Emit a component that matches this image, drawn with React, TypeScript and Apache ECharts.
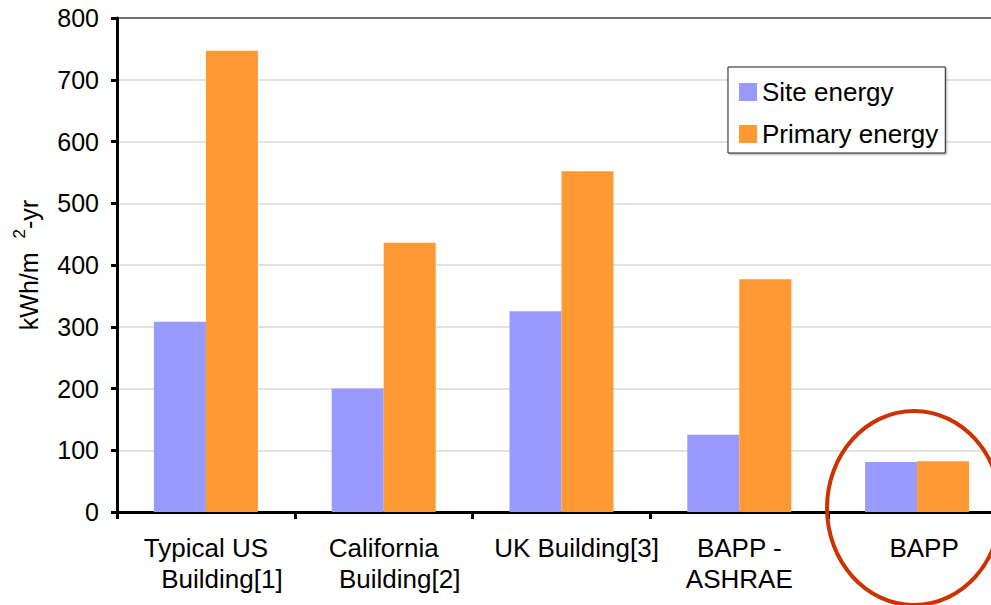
import React, { useEffect, useRef } from "react";
import * as echarts from "echarts";

const categories = ["Typical US\nBuilding[1]", "California\nBuilding[2]", "UK Building[3]", "BAPP -\nASHRAE", "BAPP"];
const siteEnergy = [308, 200, 325, 125, 81];
const primaryEnergy = [747, 436, 552, 377, 82];
const seriesNames = ["Site energy", "Primary energy"];
const yTicks = [0, 100, 200, 300, 400, 500, 600, 700, 800];

export default function App() {
  const ref = useRef<HTMLDivElement>(null);
  useEffect(() => {
    const chart = echarts.init(ref.current!, null, { renderer: "svg" });
    const font = "'Liberation Sans', Arial, sans-serif";
    const gridColors = yTicks.map((t, i) => (i === yTicks.length - 1 ? "#444" : "#d9d9d9"));
    // per-label horizontal nudges (rich style names), matching the source layout
    const singleStyle: Record<string, string> = { "UK Building[3]": "c", BAPP: "d" };
    const base = { fontSize: 26, color: "#000", fontFamily: font, lineHeight: 31 };
    chart.setOption({
      animation: false,
      backgroundColor: "#fff",
      textStyle: { fontFamily: font },
      grid: { left: 117, top: 18, width: 889, height: 494, outerBoundsMode: "none", containLabel: false },
      legend: {
        orient: "vertical",
        left: 728,
        top: 67,
        padding: [11, 7, 5, 11],
        itemWidth: 18,
        itemHeight: 18,
        itemGap: 14,
        borderColor: "#222",
        borderWidth: 1,
        backgroundColor: "#fff",
        shadowColor: "rgba(0,0,0,0.35)",
        shadowBlur: 2,
        shadowOffsetX: 1,
        shadowOffsetY: 1,
        icon: "rect",
        textStyle: { fontSize: 26, lineHeight: 28, color: "#000", fontFamily: font },
        data: seriesNames,
      },
      xAxis: {
        type: "category",
        data: categories,
        axisLine: { lineStyle: { color: "#000", width: 3 } },
        axisTick: { show: true, length: 7, lineStyle: { color: "#000", width: 3 } },
        axisLabel: {
          interval: 0,
          margin: 20,
          color: "#000",
          fontSize: 26,
          fontFamily: font,
          lineHeight: 31,
          formatter: (v: string) => {
            const parts = v.split("\n");
            if (parts.length === 1) return "{" + (singleStyle[v] || "a") + "|" + parts[0] + "}";
            const second = parts[1].indexOf("Building") === 0 ? "{b|" + parts[1] + "}" : "{a|" + parts[1] + "}";
            return "{a|" + parts[0] + "}\n" + second;
          },
          rich: {
            a: { ...base },
            b: { ...base, padding: [0, 0, 0, 32] },
            c: { ...base, padding: [0, 0, 0, 30] },
            d: { ...base, padding: [0, 0, 0, 14] },
          },
        },
      },
      yAxis: {
        type: "value",
        min: 0,
        max: 800,
        interval: 100,
        name: "{n|kWh/m  }{s|2}{n|-yr}",
        nameLocation: "middle",
        nameGap: 76,
        nameRotate: 90,
        nameTextStyle: {
          fontSize: 25,
          color: "#000",
          fontFamily: font,
          rich: {
            n: { fontSize: 25, color: "#000", fontFamily: font, lineHeight: 30, verticalAlign: "bottom" },
            s: { fontSize: 17, color: "#000", fontFamily: font, lineHeight: 17, verticalAlign: "top" },
          },
        },
        axisLine: { show: true, lineStyle: { color: "#000", width: 3 } },
        axisTick: { show: true, length: 6, lineStyle: { color: "#000", width: 3 } },
        axisLabel: { color: "#000", fontSize: 25, fontFamily: font, margin: 18 },
        splitLine: { lineStyle: { color: gridColors, width: 1.5 } },
      },
      series: [
        {
          name: seriesNames[0],
          type: "bar",
          data: siteEnergy,
          barWidth: 52,
          barGap: "0%",
          itemStyle: { color: "#9999FF" },
        },
        {
          name: seriesNames[1],
          type: "bar",
          data: primaryEnergy,
          barWidth: 52,
          barGap: "0%",
          itemStyle: { color: "#FF9933" },
        },
      ],
      graphic: [
        {
          type: "ellipse",
          shape: { cx: 914, cy: 508, rx: 87, ry: 97 },
          style: { fill: "none", stroke: "#CC3300", lineWidth: 4 },
          z: 100,
        },
      ],
    });
    return () => chart.dispose();
  }, []);
  return <div ref={ref} style={{ width: 991, height: 605, position: "absolute", left: 0, top: 0 }} />;
}
